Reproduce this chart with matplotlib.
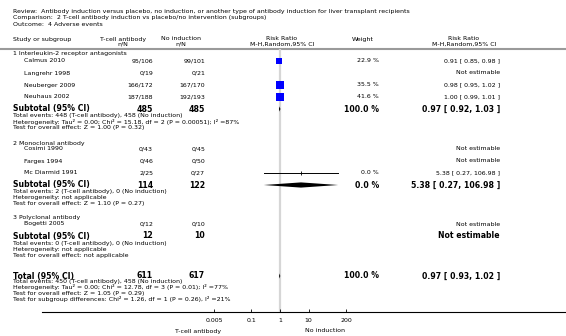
import numpy as np
import matplotlib
matplotlib.use("Agg")
import matplotlib.pyplot as plt

# ---------------------------------------------------------------------------
# Data.
# ---------------------------------------------------------------------------
review = ("Review:  Antibody induction versus placebo, no induction, or another type of "
          "antibody induction for liver transplant recipients")
comparison = "Comparison:  2 T-cell antibody induction vs placebo/no intervention (subgroups)"
outcome = "Outcome:  4 Adverse events"

groups = ["1 Interleukin-2 receptor antagonists", "2 Monoclonal antibody", "3 Polyclonal antibody"]
studies = ["Calmus 2010", "Langrehr 1998", "Neuberger 2009", "Neuhaus 2002",
           "Cosimi 1990", "Farges 1994", "Mc Diarmid 1991", "Bogetti 2005"]
study_group = [0, 0, 0, 0, 1, 1, 1, 2]
tcell_nN = ["95/106", "0/19", "166/172", "187/188", "0/43", "0/46", "2/25", "0/12"]
noind_nN = ["99/101", "0/21", "167/170", "192/193", "0/45", "0/50", "0/27", "0/10"]
weight = [22.9, np.nan, 35.5, 41.6, np.nan, np.nan, 0.0, np.nan]
rr = [0.91, np.nan, 0.98, 1.00, np.nan, np.nan, 5.38, np.nan]
rr_lo = [0.85, np.nan, 0.95, 0.99, np.nan, np.nan, 0.27, np.nan]
rr_hi = [0.98, np.nan, 1.02, 1.01, np.nan, np.nan, 106.98, np.nan]

sub_tcell = [485, 114, 12]
sub_noind = [485, 122, 10]
sub_weight = [100.0, 0.0, np.nan]
sub_rr = [0.97, 5.38, np.nan]
sub_lo = [0.92, 0.27, np.nan]
sub_hi = [1.03, 106.98, np.nan]
sub_notes = [
    ["Total events: 448 (T-cell antibody), 458 (No induction)",
     "Heterogeneity: Tau\u00b2 = 0.00; Chi\u00b2 = 15.18, df = 2 (P = 0.00051); I\u00b2 =87%",
     "Test for overall effect: Z = 1.00 (P = 0.32)"],
    ["Total events: 2 (T-cell antibody), 0 (No induction)",
     "Heterogeneity: not applicable",
     "Test for overall effect: Z = 1.10 (P = 0.27)"],
    ["Total events: 0 (T-cell antibody), 0 (No induction)",
     "Heterogeneity: not applicable",
     "Test for overall effect: not applicable"],
]

tot_tcell, tot_noind = 611, 617
tot_weight = 100.0
tot_rr, tot_lo, tot_hi = 0.97, 0.93, 1.02
tot_notes = ["Total events: 450 (T-cell antibody), 458 (No induction)",
             "Heterogeneity: Tau\u00b2 = 0.00; Chi\u00b2 = 12.78, df = 3 (P = 0.01); I\u00b2 =77%",
             "Test for overall effect: Z = 1.05 (P = 0.29)",
             "Test for subgroup differences: Chi\u00b2 = 1.26, df = 1 (P = 0.26), I\u00b2 =21%"]

axis_ticks = [0.005, 0.1, 1, 10, 200]
axis_ticklabels = ["0.005", "0.1", "1", "10", "200"]
favours = ["T-cell antibody", "No induction"]

# ---------------------------------------------------------------------------
# Layout (pixel coordinates of a 566 x 336 canvas, y grows downwards).
# ---------------------------------------------------------------------------
W, H = 566, 336
SMALL, BOLD = 4.5, 5.6
X_LEFT, X_STUDY = 13, 24
X_TC, X_NI = 153, 205          # right edges of the n/N columns
X_W, X_RR = 379, 500           # right edges of weight and RR columns
group_y = [54, 143, 218]
study_y = [61, 73, 85, 97, 149, 161, 173, 224]
sub_y = [109, 185, 236]
total_y = 276
note_dy = 6.0
axis_y = 312
plot_x0, plot_x1 = 214, 346

fig = plt.figure(figsize=(W / 100, H / 100), dpi=100)
ax = fig.add_axes([0, 0, 1, 1])
ax.set_xlim(0, W)
ax.set_ylim(H, 0)
ax.axis("off")

fax = fig.add_axes([plot_x0 / W, (H - axis_y) / H, (plot_x1 - plot_x0) / W, (axis_y - 49) / H])
fax.set_xscale("log")
fax.set_xlim(0.005, 200)
fax.set_ylim(axis_y, 49)
fax.patch.set_alpha(0)
for s in fax.spines.values():
    s.set_visible(False)


def txt(x, y, s, bold=False, ha="left", size=None):
    ax.text(x, y, s, ha=ha, va="center", fontsize=size or (BOLD if bold else SMALL),
            fontweight="bold" if bold else "normal", color="black")


def rr_label(r, lo, hi):
    if np.isnan(r):
        return "Not estimable"
    return f"{r:.2f} [ {lo:.2f}, {hi:.2f} ]"


def diamond(r, lo, hi, y, h=2.6):
    fax.fill([lo, r, hi, r], [y, y - h, y, y + h], color="black", lw=0)


# headers
txt(X_LEFT, 12, review)
txt(X_LEFT, 18, comparison)
txt(X_LEFT, 24, outcome)
txt(X_LEFT, 39, "Study or subgroup")
txt(123, 39, "T-cell antibody", ha="center")
txt(123, 44.5, "n/N", ha="center")
txt(181, 39, "No induction", ha="center")
txt(181, 44.5, "n/N", ha="center")
txt(282, 39, "Risk Ratio", ha="center")
txt(282, 44.5, "M-H,Random,95% CI", ha="center")
txt(363, 39, "Weight", ha="center")
txt(464, 39, "Risk Ratio", ha="center")
txt(464, 44.5, "M-H,Random,95% CI", ha="center")
ax.plot([0, W], [49, 49], color="#9a9a9a", lw=1.5, solid_capstyle="butt")

# line of no effect
fax.axvline(1, color="#d6d6d6", lw=1.6, zorder=0)

# studies
for i, name in enumerate(studies):
    y = study_y[i]
    txt(X_STUDY, y, name)
    txt(X_TC, y, tcell_nN[i], ha="right")
    txt(X_NI, y, noind_nN[i], ha="right")
    if not np.isnan(weight[i]):
        txt(X_W, y, f"{weight[i]:.1f} %", ha="right")
    txt(X_RR, y, rr_label(rr[i], rr_lo[i], rr_hi[i]), ha="right")
    if not np.isnan(rr[i]):
        fax.plot([rr_lo[i], rr_hi[i]], [y, y], color="black", lw=0.7, zorder=2)
        side_px = 1.2 * np.sqrt(weight[i])
        if side_px > 0:
            fax.scatter([rr[i]], [y], marker="s", s=(side_px * 0.72) ** 2,
                        color="#0000ff", lw=0, zorder=3)
        else:
            fax.scatter([rr[i]], [y], marker="|", s=6, color="black", lw=0.6, zorder=3)

# subgroups
for g, label in enumerate(groups):
    txt(X_LEFT, group_y[g], label)
    y = sub_y[g]
    txt(X_LEFT, y, "Subtotal (95% CI)", bold=True)
    txt(X_TC, y, str(sub_tcell[g]), bold=True, ha="right")
    txt(X_NI, y, str(sub_noind[g]), bold=True, ha="right")
    if not np.isnan(sub_weight[g]):
        txt(X_W, y, f"{sub_weight[g]:.1f} %", bold=True, ha="right")
    txt(X_RR, y, rr_label(sub_rr[g], sub_lo[g], sub_hi[g]), bold=True, ha="right")
    if not np.isnan(sub_rr[g]):
        diamond(sub_rr[g], sub_lo[g], sub_hi[g], y)
    for k, note in enumerate(sub_notes[g]):
        txt(X_LEFT, y + 7 + k * note_dy, note)

# overall
txt(X_LEFT, total_y, "Total (95% CI)", bold=True)
txt(X_TC, total_y, str(tot_tcell), bold=True, ha="right")
txt(X_NI, total_y, str(tot_noind), bold=True, ha="right")
txt(X_W, total_y, f"{tot_weight:.1f} %", bold=True, ha="right")
txt(X_RR, total_y, rr_label(tot_rr, tot_lo, tot_hi), bold=True, ha="right")
diamond(tot_rr, tot_lo, tot_hi, total_y)
for k, note in enumerate(tot_notes):
    txt(X_LEFT, total_y + 6 + k * 5.5, note)

# scale
ax.plot([42, W], [axis_y, axis_y], color="black", lw=0.8)
fax.set_xticks(axis_ticks)
fax.set_xticklabels(axis_ticklabels)
fax.minorticks_off()
fax.set_yticks([])
fax.tick_params(axis="x", direction="in", length=2.5, width=0.6, pad=4, labelsize=SMALL)
txt(198, 331, favours[0], ha="center")
txt(325, 331, favours[1], ha="center")

fig.savefig("out.png", dpi=100)
